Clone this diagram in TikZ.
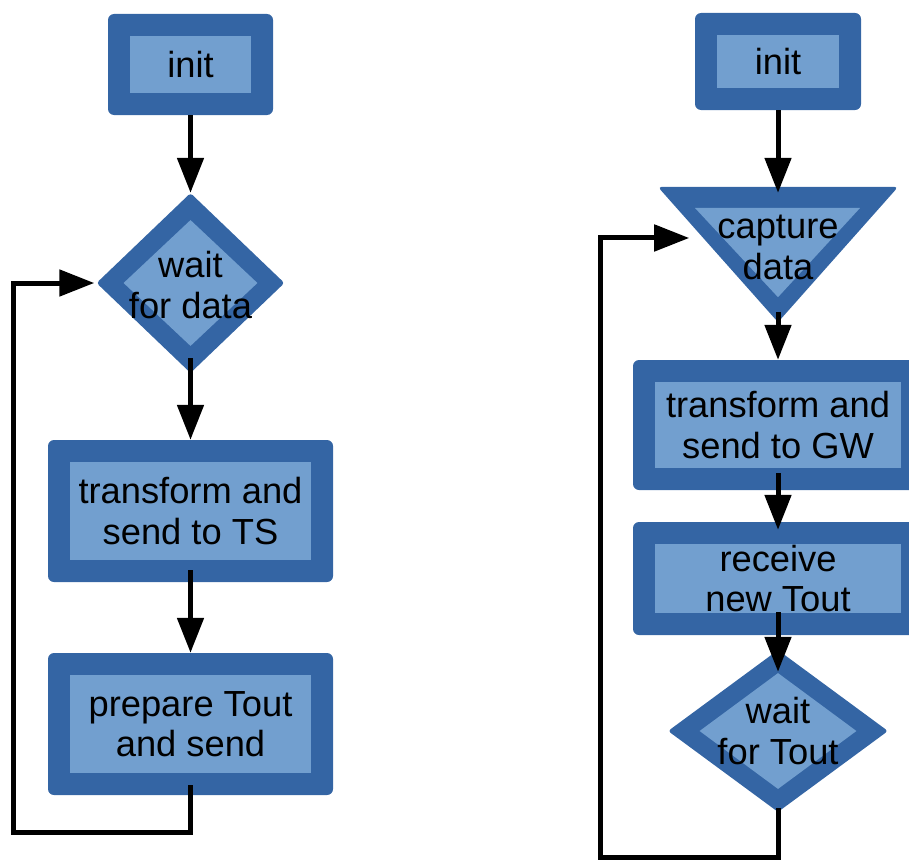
\documentclass[tikz,border=0pt]{standalone}
\usepackage{fontspec}
\setmainfont{Liberation Sans}
\usetikzlibrary{arrows.meta,shapes.geometric,calc,backgrounds}
\definecolor{boxdark}{HTML}{3465A4}
\definecolor{boxlight}{HTML}{729FCF}
\begin{document}
\begin{tikzpicture}[x=1pt,y=-1pt,
  lbl/.style={font=\fontsize{36.3}{40.5}\selectfont, align=center, text=black},
  procbox/.style={rectangle, rounded corners=6pt, fill=boxdark, inner sep=0pt, lbl,
    path picture={\fill[boxlight, sharp corners] ([xshift=22pt,yshift=22pt]path picture bounding box.south west) rectangle ([xshift=-22pt,yshift=-22pt]path picture bounding box.north east);}},
  decbox/.style 2 args={diamond, fill=boxdark, inner sep=0pt, rounded corners=3pt,
    path picture={\fill[boxlight, sharp corners] ([yshift=-#2]path picture bounding box.north) -- ([xshift=-#1]path picture bounding box.east) -- ([yshift=#2]path picture bounding box.south) -- ([xshift=#1]path picture bounding box.west) -- cycle;}},
  tribox/.style={rectangle, inner sep=0pt, minimum width=240pt, minimum height=135pt},
  flow/.style={draw=black, line width=5pt, -{Triangle[width=26pt,length=35pt]}}
]
\useasboundingbox (0,0) rectangle (909,859);

% left column
\node[procbox, minimum width=165pt, minimum height=101pt] (l1) at (190.5,64.5) {init};
\node[decbox={27pt}{27pt}, minimum width=188pt, minimum height=180pt,
      label={[lbl, yshift=-2pt]center:wait\\for data}] (d1) at (190.5,283) {};
\node[procbox, minimum width=285pt, minimum height=142pt] (l2) at (190.5,511) {transform and\\send to TS};
\node[procbox, minimum width=285pt, minimum height=142pt] (l3) at (190.5,724) {prepare Tout\\and send};

% right column
\node[procbox, minimum width=166pt, minimum height=97pt] (r0) at (778,61.5) {init};
\node[tribox, label={[lbl, yshift=7pt]center:capture\\data}] (tri) at (778,254.5) {};
\begin{pgfonlayer}{background}
  \fill[boxdark, rounded corners=4pt] (tri.north west) -- (tri.north east) -- (tri.south) -- cycle;
  \fill[boxlight] ([xshift=37pt,yshift=-21pt]tri.north west) -- ([xshift=-38pt,yshift=-21pt]tri.north east) -- ([yshift=25pt]tri.south) -- cycle;
\end{pgfonlayer}
\node[procbox, minimum width=290pt, minimum height=130pt] (r1) at (778,425) {transform and\\send to GW};
\node[procbox, minimum width=290pt, minimum height=113pt] (r2) at (778,578.5) {receive\\new Tout};
\node[decbox={31.5pt}{23pt}, minimum width=220pt, minimum height=162pt,
      label={[lbl]center:wait\\for Tout}] (d2) at (778,731) {};

% loop corners
\coordinate (lc) at (13,832);
\coordinate (rc) at (600,857);
\coordinate (rin) at ($(tri.north west)!0.378!(tri.south)$);

% left connectors
\draw[flow] (l1.south) -- (d1.north);
\draw[flow, shorten <=-15pt] (d1.south) -- (l2.north);
\draw[flow, shorten <=-12pt] (l2.south) -- (l3.north);
\draw[flow, shorten <=-10pt, shorten >=2pt] (l3.south) |- (lc) |- (d1.west);

% right connectors
\draw[flow, shorten >=-6pt] (r0.south) -- (tri.north);
\draw[flow, shorten <=-10pt] (tri.south) -- (r1.north);
\draw[flow, shorten <=-17pt, shorten >=-8pt] (r1.south) -- (r2.north);
\draw[flow, shorten <=-23pt, shorten >=-22pt] (r2.south) -- (d2.north);
\draw[flow, shorten <=-4pt, shorten >=14pt] (d2.south) |- (rc) |- (rin);
\end{tikzpicture}
\end{document}
